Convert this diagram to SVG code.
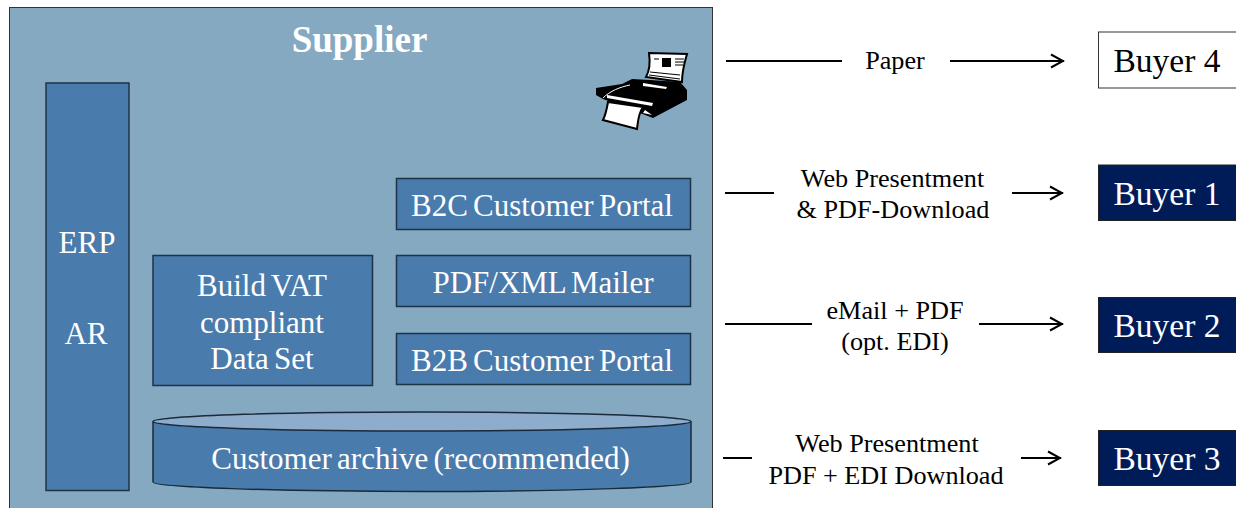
<svg xmlns="http://www.w3.org/2000/svg" width="1236" height="508" viewBox="0 0 1236 508">
<defs><marker id="a" markerUnits="userSpaceOnUse" markerWidth="16" markerHeight="16" refX="15" refY="8" orient="auto"><path d="M2 1.500L14 8L2 14.500" fill="none" stroke="#000" stroke-width="2"/></marker></defs>
<style>
text{font-family:"Liberation Serif","Times New Roman",serif;text-anchor:middle}
.b{fill:#497bac;stroke:#1f3347;stroke-width:1.500}
.w{fill:#fff;font-size:31px;word-spacing:-2.500px}
.l{fill:#000;font-size:26.200px}
.c{stroke:#000;stroke-width:2;fill:none}
.dark{fill:#001c58;stroke:#222;stroke-width:1}
.n{font-size:33.500px}
</style>
<g id="supplier"><rect x="9.500" y="7.500" width="703" height="502" fill="#86a9c2" stroke="#333" stroke-width="1"/><text x="359.500" y="52" fill="#fff" font-size="37" font-weight="bold">Supplier</text></g>
<g id="erp"><rect class="b" x="46" y="83" width="83" height="407.500"/><text class="w" x="87" y="253">ERP</text><text class="w" x="86" y="344">AR</text></g>
<g id="vat"><rect class="b" x="153" y="255.500" width="219.500" height="130"/><text class="w" x="262" y="296">Build VAT</text><text class="w" x="262" y="332.500">compliant</text><text class="w" x="262" y="369">Data Set</text></g>
<g id="b2c"><rect class="b" x="396.500" y="178.500" width="294" height="51"/><text class="w" x="542" y="216">B2C Customer Portal</text></g>
<g id="mailer"><rect class="b" x="396.500" y="255.500" width="294" height="51"/><text class="w" x="543" y="293">PDF/XML Mailer</text></g>
<g id="b2b"><rect class="b" x="396.500" y="333.500" width="294" height="51"/><text class="w" x="542" y="371">B2B Customer Portal</text></g>
<g id="archive"><path d="M153 421.500V482C153 487 274 491.500 422 491.500S691 487 691 482V421.500" fill="#497bac" stroke="#1a2a3a" stroke-width="1.500"/><ellipse cx="422" cy="421.500" rx="269" ry="9.500" fill="#8eaccb" stroke="#1a2a3a" stroke-width="1.500"/><text class="w" x="420.500" y="469">Customer archive (recommended)</text></g>
<g id="printer">
<path d="M596 88L622 84L632 79L650 80L680 82L687 90V100L653 118L640 113L603 99L596 95Z" fill="#000"/>
<path d="M603 98C610 91 620 87 630 85" fill="none" stroke="#fff" stroke-width="1"/>
<path d="M649 53L687 54C684 64 682 74 682 82L646 77C650 70 650 60 649 53Z" fill="#fff" stroke="#000" stroke-width="2"/>
<rect x="662" y="58" width="9" height="9" fill="#000"/>
<path d="M654 59H659M675 59H684M675 62H684M675 65H683M650 72L680 75M649 75L680 79" stroke="#000" stroke-width="1"/>
<path d="M607 95L653 103L652 106L607 98ZM643 83L667 87L666 89L643 86ZM645 110L652 115L643 113Z" fill="#fff"/>
<path d="M608 102L643 107C638 114 638 122 637 129L603 120C606 114 607 108 608 102Z" fill="#fff" stroke="#000" stroke-width="2"/>
</g>
<g id="connectors">
<path class="c" d="M726 61H842M950 61H1064" marker-end="url(#a)"/>
<path class="c" d="M725 193H774M1012 193H1063" marker-end="url(#a)"/>
<path class="c" d="M725 324H812M979 324H1063" marker-end="url(#a)"/>
<path class="c" d="M723 458H752M1021 458H1061" marker-end="url(#a)"/>
</g>
<g id="labels">
<text class="l" x="895" y="68.500">Paper</text>
<text class="l" x="892.500" y="186.500">Web Presentment</text><text class="l" x="893" y="217.500">&amp; PDF-Download</text>
<text class="l" x="895" y="318.500">eMail + PDF</text><text class="l" x="895" y="349.500">(opt. EDI)</text>
<text class="l" x="887" y="451.500">Web Presentment</text><text class="l" x="886" y="483.500">PDF + EDI Download</text>
</g>
<g id="buyer4"><rect x="1098.500" y="32" width="140" height="56" fill="#fff" stroke="#333" stroke-width="1"/><text class="n" x="1167" y="72" fill="#000">Buyer 4</text></g>
<g id="buyer1"><rect class="dark" x="1098.500" y="165" width="140" height="55.500"/><text class="n" x="1167" y="205" fill="#fff">Buyer 1</text></g>
<g id="buyer2"><rect class="dark" x="1098.500" y="297.500" width="140" height="55"/><text class="n" x="1167" y="337" fill="#fff">Buyer 2</text></g>
<g id="buyer3"><rect class="dark" x="1098.500" y="430.500" width="140" height="55"/><text class="n" x="1167" y="470" fill="#fff">Buyer 3</text></g>
</svg>
